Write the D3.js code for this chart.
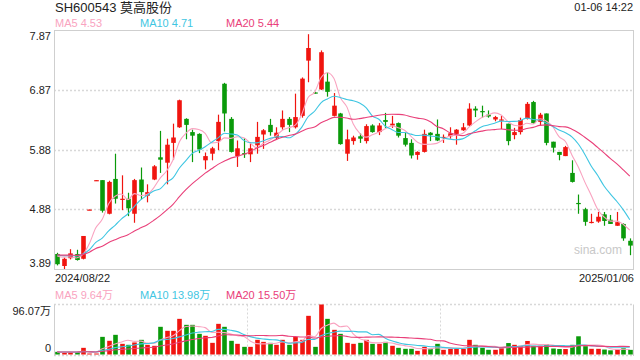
<!DOCTYPE html>
<html>
<head>
<meta charset="utf-8">
<script src="https://cdn.jsdelivr.net/npm/d3@7"></script>
<style>
  body { margin: 0; background: #fff; }
  text { font-family: "Liberation Sans", Arial, "Noto Sans CJK SC", sans-serif; }
</style>
</head>
<body>
<svg id="svgMain" width="640" height="360"></svg>
<script>
// ---- data ----
const stockTitle = "SH600543 莫高股份";
const timeLabel = "01-06 14:22";
const dateLabels = ["2024/08/22", "2025/01/06"];

const opens = [4.14,3.94,4.07,4.14,4.06,4.87,5.36,5.37,4.81,5.39,
  5.04,5.06,4.81,5.38,5.11,5.38,5.75,5.66,5.99,6.25,
  6.39,6.17,6.14,5.70,5.81,6.02,6.975,6.39,5.77,5.82,
  5.80,5.95,6.13,6.29,6.07,6.25,6.39,6.25,6.44,7.36,
  6.83,6.88,7.01,6.44,6.48,5.81,6.02,6.10,6.02,6.28,
  6.17,6.37,6.28,6.32,6.07,5.99,5.79,5.84,6.16,6.14,
  6.08,6.10,6.14,6.20,6.28,6.56,6.52,6.46,6.38,6.36,
  6.31,6.12,6.17,6.39,6.67,6.34,6.48,6.01,5.84,5.77,
  5.49,4.99,4.885,4.665,4.68,4.80,4.71,4.61,4.64,4.36];
const closes = [3.97,4.06,4.15,4.04,4.44,4.88,5.37,4.86,5.34,5.06,
  5.06,4.90,5.37,5.17,5.17,5.60,5.71,5.96,6.08,6.70,
  6.29,6.11,5.88,5.77,5.90,6.34,6.48,5.84,5.90,5.81,
  5.90,6.09,6.20,6.17,6.16,6.39,6.29,6.42,7.06,7.57,
  6.82,7.50,6.84,6.61,5.97,6.05,6.08,6.06,6.27,6.17,
  6.28,6.34,6.31,6.11,5.96,5.78,5.84,6.14,6.12,6.03,
  6.09,6.15,6.21,6.25,6.56,6.53,6.51,6.43,6.42,6.38,
  6.02,6.17,6.37,6.64,6.32,6.46,5.99,5.91,5.79,5.92,
  5.34,4.98,4.675,4.675,4.76,4.69,4.64,4.67,4.40,4.28];
const highs = [4.16,4.08,4.22,4.21,4.44,4.88,5.37,5.37,5.36,5.81,
  5.45,5.16,5.39,5.58,5.30,5.62,6.19,6.06,6.31,6.71,
  6.40,6.21,6.15,5.83,5.925,6.46,6.99,6.42,6.03,6.07,
  6.00,6.34,6.22,6.39,6.25,6.53,6.42,6.81,7.08,7.80,
  6.84,7.53,7.16,6.82,6.49,6.21,6.11,6.15,6.30,6.30,
  6.32,6.49,6.44,6.33,6.16,6.05,5.85,6.21,6.17,6.38,
  6.13,6.25,6.22,6.32,6.65,6.60,6.61,6.53,6.44,6.44,
  6.31,6.24,6.41,6.67,6.69,6.49,6.48,6.01,5.84,5.94,
  5.70,5.13,4.91,4.81,4.84,4.84,4.79,4.84,4.65,4.40];
const lows = [3.95,3.89,4.05,4.03,4.05,4.87,5.36,4.83,4.80,4.98,
  4.87,4.77,4.66,5.05,5.00,5.37,5.49,5.30,5.71,6.24,
  6.05,5.67,5.82,5.55,5.70,5.87,6.18,5.83,5.59,5.74,
  5.67,5.81,5.89,6.11,6.05,6.21,6.17,6.23,6.41,7.00,
  6.81,6.87,6.76,6.43,5.96,5.69,5.96,5.99,5.98,6.16,
  6.12,6.24,6.24,6.08,5.93,5.73,5.71,5.83,6.02,6.02,
  5.99,6.06,5.96,6.19,6.27,6.42,6.41,6.41,6.35,6.22,
  5.95,6.05,6.13,6.38,6.31,6.28,5.95,5.83,5.70,5.77,
  5.33,4.81,4.61,4.65,4.66,4.61,4.64,4.61,4.36,4.12];
// volume, in 万
const volumes = [5.1,3.2,4.5,4.5,12.8,1.9,1.9,33.9,26.3,37.8,
  20.5,18.6,23.1,28.2,18.6,16.7,53.2,45.5,45.5,68.5,
  57,57,39.7,35.9,22.4,58.9,53.2,26.3,20.5,14.7,
  14.7,28.2,24.3,22.4,18.6,28.2,18.6,33.9,28.2,74.3,
  14.7,96.07,68.5,47.4,39.7,22.4,20.5,22.4,28.2,20.5,
  20.5,24.3,16.7,12.8,10.9,10.9,7.0,14.7,10.9,20.5,
  9.0,10.9,10.9,10.9,28.2,18.6,12.8,9.0,9.0,12.8,
  22,18.6,16.7,26,16.7,16.7,20,11.5,10.5,10.5,
  18.6,35,16,10.9,10.9,9.5,8.0,9.8,12.0,8.9];

// sessions before the first visible candle, only used to seed the moving averages
const priorCloses = [4.12,4.15,4.13,4.10,4.14,4.16,4.12,4.11,4.13,4.15,
  4.14,4.12,4.10,4.13,4.15,4.16,4.14,4.12,4.15];
const priorVolumes = [5.2,4.8,5.5,4.6,5.0,5.8,4.4,5.1,4.9,5.3,
  4.7,5.0,5.6,4.5,4.9,5.2,4.8,5.0,4.6];

const priceTicks = [3.89, 4.885, 5.88, 6.875, 7.87];
const priceTickLabels = ["3.89", "4.88", "5.88", "6.87", "7.87"];
const volTopLabel = "96.07万";
const volMax = 96.07;

const maPeriods = [5, 10, 20];
const maColors = ["#f9a3c0", "#3fc6e2", "#e9407a"];
const priceMaLabels = ["MA5 4.53", "MA10 4.71", "MA20 5.44"];
const volMaLabels = ["MA5 9.64万", "MA10 13.98万", "MA20 15.50万"];

// ---- layout ----
let svgMain = d3.select("#svgMain");
const plotLeft = 54, plotRight = 633;
const priceTop = 30, priceBottom = 269;
const volTop = 304.5, volBottom = 354.5;
const upColor = "#f0140f", downColor = "#0a9a0a";
const gridColor = "#d8d8d8", borderColor = "#cfcfcf";

const idx = d3.range(closes.length);

const xScale = d3.scaleBand()
    .domain(idx)
    .range([plotLeft, plotRight]);
const cx = i => xScale(i) + xScale.bandwidth() / 2;

const yScale = d3.scaleLinear()
    .domain([priceTicks[0], priceTicks[priceTicks.length - 1]])
    .range([priceBottom, priceTop]);

const vScale = d3.scaleLinear()
    .domain([0, volMax])
    .range([volBottom, volTop]);

function movingAvg(series, prior, n) {
    const all = prior.concat(series);
    const off = prior.length;
    return series.map((d, i) => d3.mean(all.slice(off + i - n + 1, off + i + 1)));
}

//Header
svgMain.append("text")
    .attr("x", plotLeft + 1)
    .attr("y", 12)
    .attr("font-size", "13px")
    .attr("fill", "#222")
    .text(stockTitle);

svgMain.append("text")
    .attr("x", plotRight)
    .attr("y", 11)
    .attr("font-size", "11px")
    .attr("text-anchor", "end")
    .attr("fill", "#222")
    .text(timeLabel);

const legendX = [plotLeft + 1, 140, 226];
priceMaLabels.forEach((t, k) => {
    svgMain.append("text")
        .attr("x", legendX[k])
        .attr("y", 27)
        .attr("font-size", "11px")
        .attr("fill", maColors[k])
        .text(t);
});
volMaLabels.forEach((t, k) => {
    svgMain.append("text")
        .attr("x", legendX[k])
        .attr("y", 299)
        .attr("font-size", "11px")
        .attr("fill", maColors[k])
        .text(t);
});

//Price gridlines
svgMain.append("g")
    .selectAll("line")
    .data(priceTicks.slice(1, -1))
    .join("line")
    .attr("x1", plotLeft)
    .attr("x2", plotRight)
    .attr("y1", d => Math.round(yScale(d)) + 0.5)
    .attr("y2", d => Math.round(yScale(d)) + 0.5)
    .attr("stroke", gridColor)
    .attr("stroke-width", 1.5)
    .attr("stroke-dasharray", "2,2");

//Price border
svgMain.append("rect")
    .attr("x", plotLeft + 0.5)
    .attr("y", priceTop + 0.5)
    .attr("width", plotRight - plotLeft)
    .attr("height", priceBottom - priceTop)
    .attr("fill", "none")
    .attr("stroke", borderColor);

//Price labels
svgMain.append("g")
    .selectAll("text")
    .data(priceTicks)
    .join("text")
    .attr("x", plotLeft - 3)
    .attr("y", (d, i) => {
        if (i === 0) return yScale(d) - 2;
        if (i === priceTicks.length - 1) return yScale(d) + 10;
        return yScale(d) + 4;
    })
    .attr("font-size", "11px")
    .attr("text-anchor", "end")
    .attr("fill", "#222")
    .text((d, i) => priceTickLabels[i]);

//Date labels
svgMain.append("text")
    .attr("x", plotLeft + 1)
    .attr("y", 282)
    .attr("font-size", "11px")
    .attr("fill", "#222")
    .text(dateLabels[0]);
svgMain.append("text")
    .attr("x", plotRight + 1)
    .attr("y", 282)
    .attr("font-size", "11px")
    .attr("text-anchor", "end")
    .attr("fill", "#222")
    .text(dateLabels[1]);

//Watermark
svgMain.append("text")
    .attr("x", 622)
    .attr("y", 254)
    .attr("font-size", "12px")
    .attr("text-anchor", "end")
    .attr("fill", "#c8c8c8")
    .text("sina.com");

const isUp = i => closes[i] >= opens[i];
const bodyW = 4.6;

//Candles
const candles = svgMain.append("g");
candles.selectAll("line")
    .data(idx)
    .join("line")
    .attr("x1", i => Math.round(cx(i)) + 0.5)
    .attr("x2", i => Math.round(cx(i)) + 0.5)
    .attr("y1", i => yScale(highs[i]))
    .attr("y2", i => yScale(lows[i]))
    .attr("stroke", i => isUp(i) ? upColor : downColor)
    .attr("stroke-width", 1.2);

candles.selectAll("rect")
    .data(idx)
    .join("rect")
    .attr("x", i => Math.round(cx(i)) + 0.5 - bodyW / 2)
    .attr("width", bodyW)
    .attr("y", i => yScale(Math.max(opens[i], closes[i])))
    .attr("height", i => Math.max(1.2, Math.abs(yScale(opens[i]) - yScale(closes[i]))))
    .attr("fill", i => isUp(i) ? upColor : downColor);

//Price MA lines
const line = d3.line()
    .x((d, i) => cx(i))
    .curve(d3.curveMonotoneX);

maPeriods.forEach((n, k) => {
    const ma = movingAvg(closes, priorCloses, n);
    svgMain.append("path")
        .attr("d", line.y(d => yScale(d))(ma))
        .attr("fill", "none")
        .attr("stroke", maColors[k])
        .attr("stroke-width", 1.1);
});

//Volume panel frame
svgMain.append("line")
    .attr("x1", plotLeft).attr("x2", plotRight + 1)
    .attr("y1", volTop).attr("y2", volTop)
    .attr("stroke", gridColor).attr("stroke-width", 1.5)
    .attr("stroke-dasharray", "2,2");
svgMain.append("line")
    .attr("x1", plotLeft).attr("x2", plotRight + 1)
    .attr("y1", volBottom + 1).attr("y2", volBottom + 1)
    .attr("stroke", gridColor).attr("stroke-width", 1.5)
    .attr("stroke-dasharray", "2,2");
[plotLeft + 0.5, plotRight + 0.5].forEach(x => {
    svgMain.append("line")
        .attr("x1", x).attr("x2", x)
        .attr("y1", volTop).attr("y2", volBottom + 1.5)
        .attr("stroke", borderColor);
});
[1, 2].forEach(k => {
    const x = Math.round(plotLeft + (plotRight - plotLeft) * k / 3) + 0.5;
    svgMain.append("line")
        .attr("x1", x).attr("x2", x)
        .attr("y1", volTop).attr("y2", volBottom)
        .attr("stroke", gridColor)
        .attr("stroke-dasharray", "2,2");
});

svgMain.append("text")
    .attr("x", plotLeft - 3)
    .attr("y", 315)
    .attr("font-size", "11px")
    .attr("text-anchor", "end")
    .attr("fill", "#222")
    .text(volTopLabel);
svgMain.append("text")
    .attr("x", plotLeft - 3)
    .attr("y", 352)
    .attr("font-size", "11px")
    .attr("text-anchor", "end")
    .attr("fill", "#222")
    .text("0");

//Volume bars
svgMain.append("g")
    .selectAll("rect")
    .data(idx)
    .join("rect")
    .attr("x", i => Math.round(cx(i)) + 0.5 - bodyW / 2)
    .attr("width", bodyW)
    .attr("y", i => vScale(volumes[i]))
    .attr("height", i => volBottom - vScale(volumes[i]))
    .attr("fill", i => isUp(i) ? upColor : downColor);

//Volume MA lines
maPeriods.forEach((n, k) => {
    const ma = movingAvg(volumes, priorVolumes, n);
    svgMain.append("path")
        .attr("d", line.y(d => vScale(d))(ma))
        .attr("fill", "none")
        .attr("stroke", maColors[k])
        .attr("stroke-width", 1.1);
});
</script>
</body>
</html>
